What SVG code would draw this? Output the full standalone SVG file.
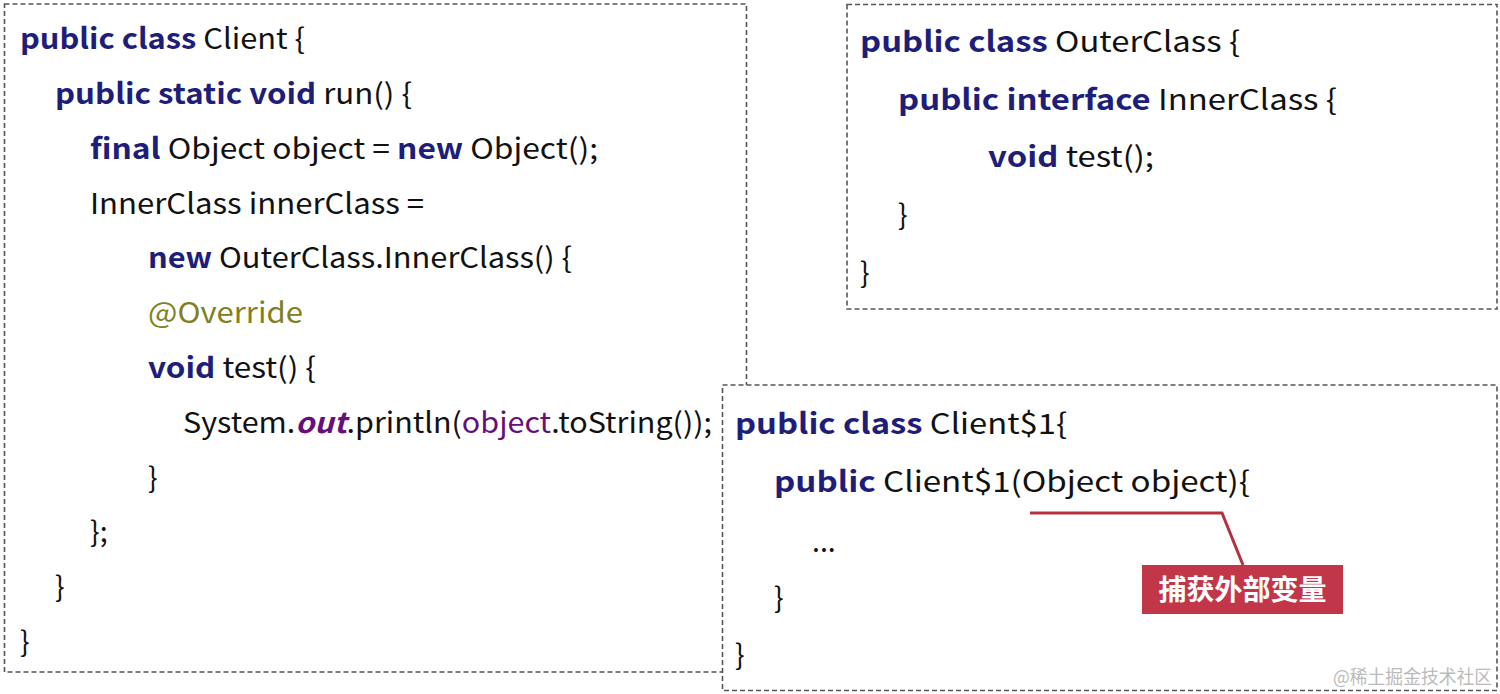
<svg xmlns="http://www.w3.org/2000/svg" width="1500" height="694" viewBox="0 0 1500 694">
<style>
.box{fill:#fff;stroke:#555;stroke-width:1.6;stroke-dasharray:5 3}
.code{font-family:"Noto Sans CJK SC","Noto Sans",sans-serif;font-size:28.5px;fill:#111}
.kw{fill:#1e1e7a;font-weight:bold}
.ann{fill:#808020}
.fld{fill:#660e7a;font-weight:bold;font-style:italic}
.var{fill:#660e7a}
.lbl{font-family:"Noto Sans CJK SC",sans-serif;font-size:28px;font-weight:bold;fill:#fff}
.wm{font-family:"Noto Sans CJK SC",sans-serif;font-size:19px;fill:#bbb}
</style>
<rect width="1500" height="694" fill="#fff"/>
<g id="client">
<rect class="box" x="4.5" y="4" width="742" height="668"/>
<text class="code" x="20" y="49" textLength="285" lengthAdjust="spacingAndGlyphs"><tspan class="kw">public class</tspan> Client {</text>
<text class="code" x="55" y="104" textLength="357" lengthAdjust="spacingAndGlyphs"><tspan class="kw">public static void</tspan> run() {</text>
<text class="code" x="90" y="159" textLength="508" lengthAdjust="spacingAndGlyphs"><tspan class="kw">final</tspan> Object object = <tspan class="kw">new</tspan> Object();</text>
<text class="code" x="90" y="214" textLength="334" lengthAdjust="spacingAndGlyphs">InnerClass innerClass =</text>
<text class="code" x="148" y="268" textLength="424" lengthAdjust="spacingAndGlyphs"><tspan class="kw">new</tspan> OuterClass.InnerClass() {</text>
<text class="code ann" x="148" y="323" textLength="155" lengthAdjust="spacingAndGlyphs">@Override</text>
<text class="code" x="148" y="378" textLength="168" lengthAdjust="spacingAndGlyphs"><tspan class="kw">void</tspan> test() {</text>
<text class="code" x="183" y="433" textLength="529" lengthAdjust="spacingAndGlyphs">System.<tspan class="fld">out</tspan>.println(<tspan class="var">object</tspan>.toString());</text>
<text class="code" x="148" y="488">}</text>
<text class="code" x="90" y="542">};</text>
<text class="code" x="55" y="597">}</text>
<text class="code" x="20" y="652">}</text>
</g>
<g id="outerclass">
<rect class="box" x="847" y="4.5" width="650" height="304.5"/>
<text class="code" x="860" y="52" textLength="380" lengthAdjust="spacingAndGlyphs"><tspan class="kw">public class</tspan> OuterClass {</text>
<text class="code" x="898" y="110" textLength="439" lengthAdjust="spacingAndGlyphs"><tspan class="kw">public interface</tspan> InnerClass {</text>
<text class="code" x="988" y="167" textLength="166" lengthAdjust="spacingAndGlyphs"><tspan class="kw">void</tspan> test();</text>
<text class="code" x="898" y="225">}</text>
<text class="code" x="860" y="283">}</text>
</g>
<g id="client1">
<rect class="box" x="722.5" y="385" width="774.5" height="305.5"/>
<text class="code" x="735" y="434" textLength="332" lengthAdjust="spacingAndGlyphs"><tspan class="kw">public class</tspan> Client$1{</text>
<text class="code" x="774" y="492" textLength="476" lengthAdjust="spacingAndGlyphs"><tspan class="kw">public</tspan> Client$1(Object object){</text>
<text class="code" x="812" y="552">...</text>
<text class="code" x="774" y="608">}</text>
<text class="code" x="735" y="665">}</text>
</g>
<g id="connectors">
<polyline points="1030,513 1222,513 1243,565" fill="none" stroke="#b3323f" stroke-width="3"/>
</g>
<g id="callout">
<rect x="1142" y="565" width="201" height="49" fill="#c2364a"/>
<text class="lbl" x="1242.5" y="600" text-anchor="middle">捕获外部变量</text>
</g>
<text class="wm" x="1333" y="684" textLength="159" lengthAdjust="spacingAndGlyphs">@稀土掘金技术社区</text>
</svg>
